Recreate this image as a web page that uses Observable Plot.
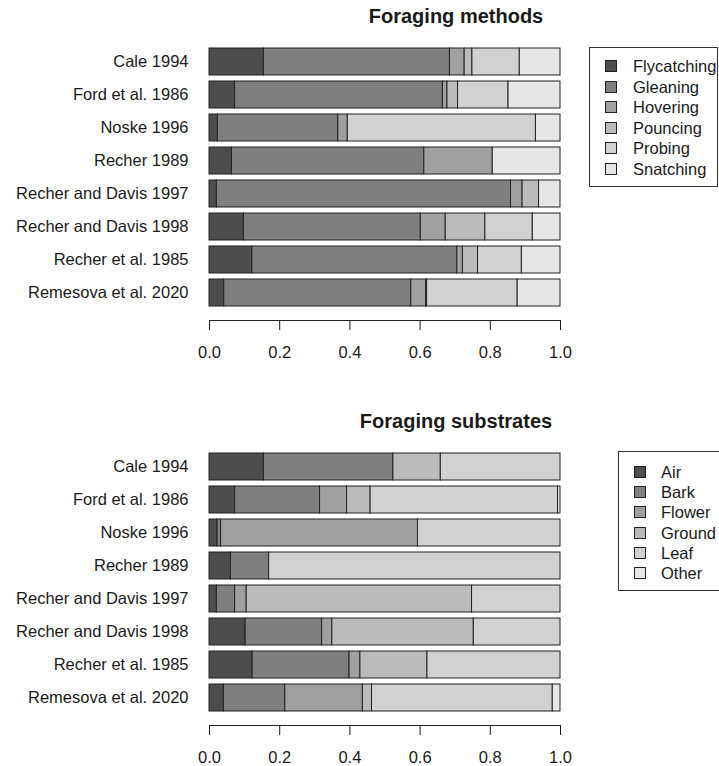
<!DOCTYPE html>
<html>
<head>
<meta charset="utf-8">
<script src="https://cdn.jsdelivr.net/npm/d3@7"></script>
<script src="https://cdn.jsdelivr.net/npm/@observablehq/plot@0.6"></script>
<style>
  html, body { margin: 0; padding: 0; background: #fff; }
  #wrap { position: relative; width: 719px; height: 766px; overflow: hidden; background: #fff;
          font-family: "Liberation Sans", Arial, Helvetica, sans-serif; color: #1a1a1a; }
  .chart { position: absolute; left: 0; }
  .title { position: absolute; font-weight: bold; font-size: 20px; line-height: 20px; white-space: nowrap; transform: translateX(-50%); }
  .legend { position: absolute; border: 1px solid #333; box-sizing: border-box; }
  .item { position: absolute; font-size: 16.5px; line-height: 20px; white-space: nowrap; }
  .sw { position: absolute; width: 12px; height: 12px; box-sizing: border-box; border: 1px solid #222; }
</style>
</head>
<body>
<div id="wrap"></div>
<script>
// ---- data ----
const studies = ["Cale 1994", "Ford et al. 1986", "Noske 1996", "Recher 1989",
  "Recher and Davis 1997", "Recher and Davis 1998", "Recher et al. 1985", "Remesova et al. 2020"];

const methods = ["Flycatching", "Gleaning", "Hovering", "Pouncing", "Probing", "Snatching"];
const flycatching = [0.155, 0.073, 0.024, 0.064, 0.021, 0.098, 0.122, 0.042];
const gleaning    = [0.530, 0.592, 0.343, 0.548, 0.838, 0.504, 0.584, 0.533];
const hovering    = [0.042, 0.013, 0.027, 0.195, 0.033, 0.071, 0.016, 0.042];
const pouncing    = [0.022, 0.030, 0.000, 0.000, 0.047, 0.113, 0.043, 0.003];
const probing     = [0.135, 0.144, 0.536, 0.000, 0.000, 0.135, 0.125, 0.258];
const snatching   = [0.116, 0.148, 0.070, 0.193, 0.061, 0.079, 0.110, 0.122];

const substrates = ["Air", "Bark", "Flower", "Ground", "Leaf", "Other"];
const air    = [0.155, 0.073, 0.023, 0.061, 0.021, 0.103, 0.123, 0.041];
const bark   = [0.369, 0.242, 0.010, 0.109, 0.052, 0.218, 0.276, 0.175];
const flower = [0.000, 0.077, 0.561, 0.000, 0.033, 0.029, 0.031, 0.221];
const ground = [0.135, 0.067, 0.000, 0.000, 0.642, 0.403, 0.191, 0.026];
const leaf   = [0.341, 0.534, 0.406, 0.830, 0.252, 0.247, 0.379, 0.515];
const other  = [0.000, 0.007, 0.000, 0.000, 0.000, 0.000, 0.000, 0.022];

const xTicks = [0, 0.2, 0.4, 0.6, 0.8, 1.0];
const grays = ["#4d4d4d", "#7f7f7f", "#a0a0a0", "#bbbbbb", "#d1d1d1", "#e6e6e6"];

const methodSeries = [flycatching, gleaning, hovering, pouncing, probing, snatching];
const substrateSeries = [air, bark, flower, ground, leaf, other];

function toLong(cats, series) {
  const rows = [];
  studies.forEach((s, i) => {
    cats.forEach((c, j) => {
      const v = series[j][i];
      if (v > 0) rows.push({study: s, category: c, value: v});
    });
  });
  return rows;
}

const FONT = '"Liberation Sans", Arial, Helvetica, sans-serif';

function makeChart(cats, series) {
  const chart = Plot.plot({
    width: 719,
    height: 361,
    marginLeft: 209,
    marginRight: 159,
    marginTop: 34.3,
    marginBottom: 41,
    style: {fontFamily: FONT, fontSize: "16.5px", color: "#1a1a1a", background: "transparent", overflow: "visible"},
    x: {domain: [0, 1], ticks: xTicks, tickFormat: d3.format(".1f"), tickSize: 10, tickPadding: 16, label: null},
    y: {domain: studies, paddingInner: 0.17, paddingOuter: 0.35, align: 0.5, tickSize: 0, tickPadding: 21, label: null},
    color: {domain: cats, range: grays},
    marks: [
      Plot.barX(toLong(cats, series), Plot.stackX({
        x: "value", y: "study", fill: "category", stroke: "#222", strokeWidth: 1
      }))
    ]
  });
  // axis domain line using the plot's own x scale
  const xs = chart.scale("x");
  const x0 = xs.apply(0), x1 = xs.apply(1);
  d3.select(chart).append("line")
    .attr("x1", x0 + 0.5).attr("x2", x1 + 0.5)
    .attr("y1", 320.5).attr("y2", 320.5)
    .attr("stroke", "#222").attr("stroke-width", 1);
  return chart;
}

const wrap = document.getElementById("wrap");

function place(el, top) {
  el.classList.add("chart");
  el.style.top = top + "px";
  wrap.appendChild(el);
}

place(makeChart(methods, methodSeries), 0);
place(makeChart(substrates, substrateSeries), 405);

function addTitle(text, top) {
  const t = document.createElement("div");
  t.className = "title";
  t.textContent = text;
  t.style.left = "456px";
  t.style.top = top + "px";
  wrap.appendChild(t);
}
addTitle("Foraging methods", 6);
addTitle("Foraging substrates", 411);

function addLegend(cats, box, swLeft, textLeft, firstRow, rowStep) {
  const b = document.createElement("div");
  b.className = "legend";
  Object.assign(b.style, {left: box.left + "px", top: box.top + "px", width: box.width + "px", height: box.height + "px"});
  wrap.appendChild(b);
  cats.forEach((c, i) => {
    const cy = firstRow + i * rowStep;
    const sw = document.createElement("div");
    sw.className = "sw";
    sw.style.left = swLeft + "px";
    sw.style.top = (cy - 6) + "px";
    sw.style.background = grays[i];
    wrap.appendChild(sw);
    const lab = document.createElement("div");
    lab.className = "item";
    lab.textContent = c;
    lab.style.left = textLeft + "px";
    lab.style.top = (cy - 10) + "px";
    wrap.appendChild(lab);
  });
}
addLegend(methods, {left: 589, top: 47, width: 129, height: 140}, 605, 633, 66, 20.5);
addLegend(substrates, {left: 618, top: 451, width: 160, height: 140}, 634, 661, 471.7, 20.3);
</script>
</body>
</html>
